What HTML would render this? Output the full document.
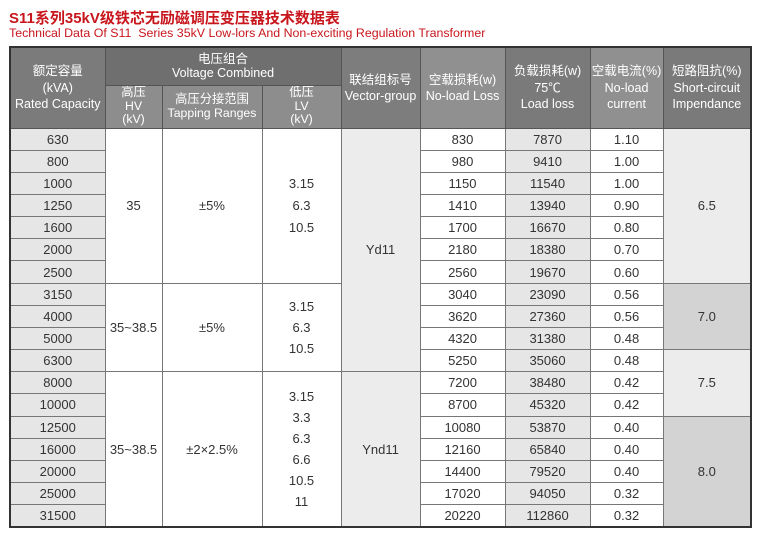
<!DOCTYPE html>
<html><head><meta charset="utf-8"><style>
body{margin:0;width:761px;height:542px;background:#fff;position:relative;overflow:hidden;font-family:"Liberation Sans","Noto Sans CJK SC",sans-serif;}
.t1{position:absolute;left:9px;top:7px;color:#c8161d;font-weight:bold;font-size:15px;}
.t2{position:absolute;left:9px;top:26px;color:#c8161d;font-size:12.4px;}
table{position:absolute;left:9px;top:46px;border-collapse:collapse;table-layout:fixed;width:741px;border:2px solid #333;}
td{border:1px solid #777;text-align:center;vertical-align:middle;padding:0;font-size:13px;color:#333;line-height:1;overflow:hidden;}
.h td{color:#fff;font-size:12.5px;line-height:1.3;border-color:#555;}
.h2 td{line-height:1.1;font-size:12.3px;}
tr.b{height:22.17px;}
.g{background:#e6e6e6;}
.lg{background:#ececec;}
.dg{background:#d3d3d3;}
.lv{line-height:22px;}
.lv6{line-height:21px;}
</style></head><body>
<div class="t1">S11系列35kV级铁芯无励磁调压变压器技术数据表</div>
<div class="t2">Technical Data Of S11&nbsp; Series 35kV Low-lors And Non-exciting Regulation Transformer</div>
<table>
<colgroup><col style="width:95px"><col style="width:57px"><col style="width:100px"><col style="width:79px"><col style="width:79px"><col style="width:85px"><col style="width:85px"><col style="width:73px"><col style="width:88px"></colgroup>
<tr class="h" style="height:38px">
<td rowspan="2" style="background:#7b7b7b">额定容量<br>(kVA)<br>Rated Capacity</td>
<td colspan="3" style="background:#6f6f6f;line-height:1.15">电压组合<br>Voltage Combined</td>
<td rowspan="2" style="background:#7d7d7d">联结组标号<br>Vector-group</td>
<td rowspan="2" style="background:#909090">空载损耗(w)<br>No-load Loss</td>
<td rowspan="2" style="background:#7a7a7a">负载损耗(w)<br>75℃<br>Load loss</td>
<td rowspan="2" style="background:#909090">空载电流(%)<br>No-load<br>current</td>
<td rowspan="2" style="background:#7a7a7a">短路阻抗(%)<br>Short-circuit<br>Impendance</td>
</tr>
<tr class="h h2" style="height:43px">
<td style="background:#8d8d8d">高压<br>HV<br>(kV)</td>
<td style="background:#8d8d8d">高压分接范围<br>Tapping Ranges</td>
<td style="background:#8d8d8d">低压<br>LV<br>(kV)</td>
</tr>
<tr class="b"><td class="g">630</td><td rowspan="7">35</td><td rowspan="7">±5%</td><td rowspan="7" class="lv">3.15<br>6.3<br>10.5</td><td rowspan="11" class="lg">Yd11</td><td>830</td><td class="g">7870</td><td>1.10</td><td rowspan="7" class="lg">6.5</td></tr>
<tr class="b"><td class="g">800</td><td>980</td><td class="g">9410</td><td>1.00</td></tr>
<tr class="b"><td class="g">1000</td><td>1150</td><td class="g">11540</td><td>1.00</td></tr>
<tr class="b"><td class="g">1250</td><td>1410</td><td class="g">13940</td><td>0.90</td></tr>
<tr class="b"><td class="g">1600</td><td>1700</td><td class="g">16670</td><td>0.80</td></tr>
<tr class="b"><td class="g">2000</td><td>2180</td><td class="g">18380</td><td>0.70</td></tr>
<tr class="b"><td class="g">2500</td><td>2560</td><td class="g">19670</td><td>0.60</td></tr>
<tr class="b"><td class="g">3150</td><td rowspan="4">35~38.5</td><td rowspan="4">±5%</td><td rowspan="4" class="lv6">3.15<br>6.3<br>10.5</td><td>3040</td><td class="g">23090</td><td>0.56</td><td rowspan="3" class="dg">7.0</td></tr>
<tr class="b"><td class="g">4000</td><td>3620</td><td class="g">27360</td><td>0.56</td></tr>
<tr class="b"><td class="g">5000</td><td>4320</td><td class="g">31380</td><td>0.48</td></tr>
<tr class="b"><td class="g">6300</td><td>5250</td><td class="g">35060</td><td>0.48</td><td rowspan="3" class="lg">7.5</td></tr>
<tr class="b"><td class="g">8000</td><td rowspan="7">35~38.5</td><td rowspan="7">±2×2.5%</td><td rowspan="7" class="lv6">3.15<br>3.3<br>6.3<br>6.6<br>10.5<br>11</td><td rowspan="7" class="lg">Ynd11</td><td>7200</td><td class="g">38480</td><td>0.42</td></tr>
<tr class="b"><td class="g">10000</td><td>8700</td><td class="g">45320</td><td>0.42</td></tr>
<tr class="b"><td class="g">12500</td><td>10080</td><td class="g">53870</td><td>0.40</td><td rowspan="5" class="dg">8.0</td></tr>
<tr class="b"><td class="g">16000</td><td>12160</td><td class="g">65840</td><td>0.40</td></tr>
<tr class="b"><td class="g">20000</td><td>14400</td><td class="g">79520</td><td>0.40</td></tr>
<tr class="b"><td class="g">25000</td><td>17020</td><td class="g">94050</td><td>0.32</td></tr>
<tr class="b"><td class="g">31500</td><td>20220</td><td class="g">112860</td><td>0.32</td></tr>
</table>
</body></html>
